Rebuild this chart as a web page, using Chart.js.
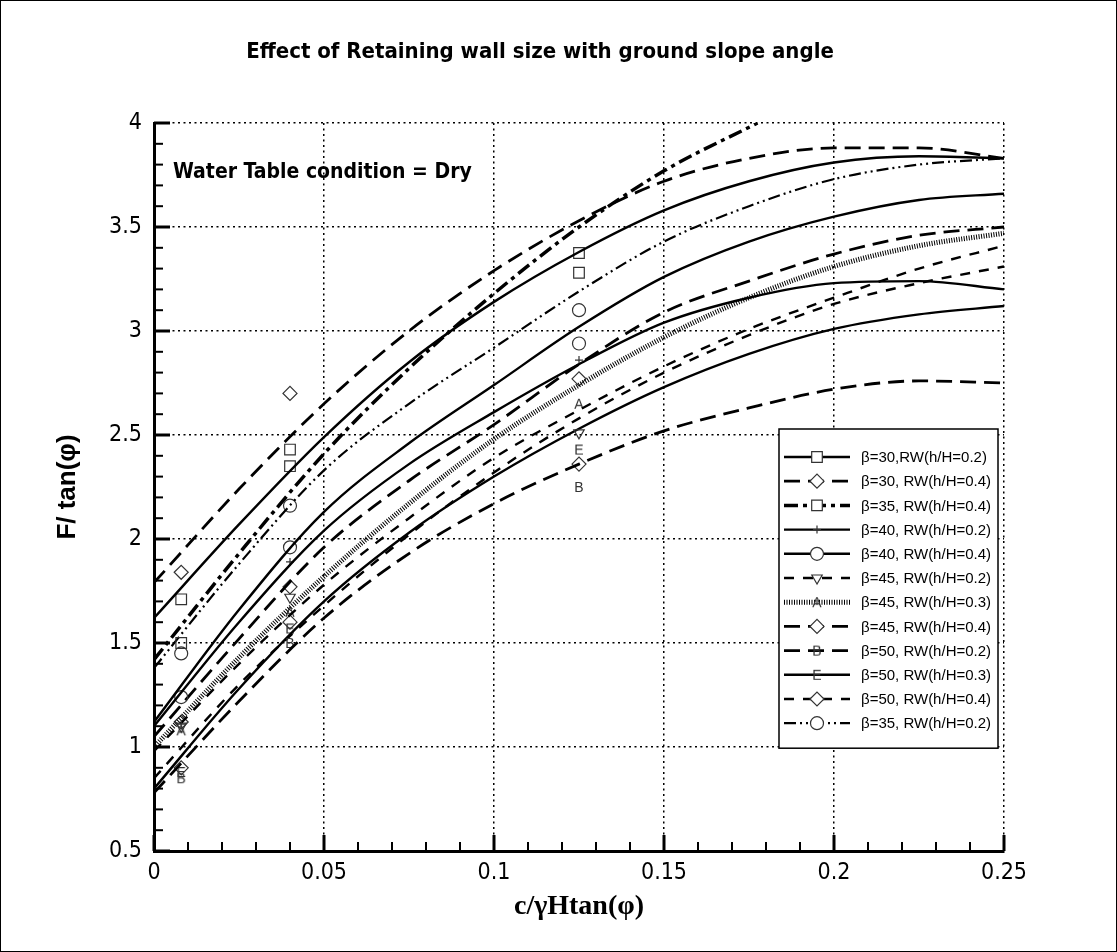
<!DOCTYPE html>
<html>
<head>
<meta charset="utf-8">
<script src="https://cdn.jsdelivr.net/npm/chart.js@4.4.0/dist/chart.umd.min.js"></script>
<style>
html, body { margin: 0; padding: 0; background: #fff; }
#wrap { width: 1117px; height: 952px; box-sizing: border-box; border: 1px solid #000; }
canvas { display: block; }
</style>
</head>
<body>
<div id="wrap"><canvas id="chart" width="1115" height="950"></canvas></div>
<script>
const titleText = 'Effect of Retaining wall size with ground slope angle'
const noteText = 'Water Table condition = Dry'
const xTitle = 'c/γHtan(φ)'
const yTitle = 'F/ tan(φ)'

const xTicks = [0, 0.05, 0.1, 0.15, 0.2, 0.25]
const yTicks = [0.5, 1, 1.5, 2, 2.5, 3, 3.5, 4]

// x positions of the curve points
const xs = [0, 0.025, 0.05, 0.075, 0.1, 0.125, 0.15, 0.175, 0.2, 0.225, 0.25]
const xs35rw04 = [0, 0.025, 0.05, 0.075, 0.1, 0.125, 0.15, 0.1775]

const b30rw02 = [1.62, 2.07, 2.49, 2.85, 3.14, 3.38, 3.58, 3.72, 3.81, 3.84, 3.83]
const b30rw04 = [1.79, 2.24, 2.65, 3.00, 3.29, 3.53, 3.72, 3.83, 3.88, 3.88, 3.83]
const b35rw04 = [1.42, 1.93, 2.41, 2.82, 3.18, 3.50, 3.77, 4.0]
const b40rw02 = [1.10, 1.60, 2.04, 2.36, 2.61, 2.84, 3.04, 3.16, 3.23, 3.24, 3.20]
const b40rw04 = [1.12, 1.66, 2.13, 2.46, 2.74, 3.02, 3.26, 3.43, 3.55, 3.63, 3.66]
const b45rw02 = [0.98, 1.40, 1.78, 2.10, 2.39, 2.62, 2.83, 3.01, 3.16, 3.30, 3.41]
const b45rw03 = [1.00, 1.43, 1.82, 2.17, 2.48, 2.74, 2.97, 3.16, 3.31, 3.41, 3.47]
const b45rw04 = [1.05, 1.52, 1.96, 2.28, 2.55, 2.84, 3.09, 3.24, 3.37, 3.46, 3.50]
const b50rw02 = [0.78, 1.22, 1.62, 1.93, 2.17, 2.36, 2.52, 2.63, 2.72, 2.76, 2.75]
const b50rw03 = [0.80, 1.28, 1.70, 2.03, 2.30, 2.53, 2.73, 2.89, 3.01, 3.08, 3.12]
const b50rw04 = [0.85, 1.30, 1.68, 2.02, 2.32, 2.58, 2.80, 2.98, 3.13, 3.23, 3.31]
const b35rw02 = [1.38, 1.88, 2.33, 2.65, 2.92, 3.19, 3.43, 3.60, 3.73, 3.80, 3.83]

// marker (data point) positions
const markX = [0.008, 0.04, 0.125]
const mk30rw02 = [1.71, 2.43, 3.375]
const mk30rw04 = [1.84, 2.70, null]
const mk35rw04 = [1.50, 2.35, 3.28]
const mk40rw02 = [1.11, 1.89, 2.86]
const mk40rw04 = [1.24, 1.96, 2.94]
const mk45rw02 = [1.10, 1.72, 2.51]
const mk45rw03 = [1.08, 1.65, 2.65]
const mk45rw04 = [1.12, 1.77, 2.77]
const mk50rw02 = [0.85, 1.50, 2.25]
const mk50rw03 = [0.88, 1.57, 2.43]
const mk50rw04 = [0.90, 1.60, 2.36]
const mk35rw02 = [1.45, 2.16, 3.10]

const letterMarker = ch => {
    const c = document.createElement('canvas')
    c.width = 16
    c.height = 16
    const g = c.getContext('2d')
    g.fillStyle = '#333'
    g.font = '14px "Liberation Sans", Arial, sans-serif'
    g.textAlign = 'center'
    g.textBaseline = 'middle'
    g.fillText(ch, 8, 9)
    return c
}

const solid = { dash: [], width: 2.4 }
const longDash = { dash: [16, 8], width: 2.8 }
const dash = { dash: [10, 9], width: 2.4 }
const dashDot = { dash: [14, 5, 4, 5], width: 3.5 }
const dashDotDot = { dash: [12, 4, 2, 4, 2, 4], width: 2.2 }
const hatched = { dash: [1, 1.5], width: 5 }

const square = { pointStyle: 'rect', radius: 7.5 }
const diamond = { pointStyle: 'rectRot', radius: 7 }
const circle = { pointStyle: 'circle', radius: 6.5 }
const plus = { pointStyle: 'cross', radius: 4 }
const triDown = { pointStyle: 'triangle', radius: 6, rotation: 180 }
const markA = { pointStyle: letterMarker('A'), radius: 7 }
const markB = { pointStyle: letterMarker('B'), radius: 7 }
const markE = { pointStyle: letterMarker('E'), radius: 7 }

const series = [
    { label: 'β=30,RW(h/H=0.2)', x: xs, y: b30rw02, mk: mk30rw02, line: solid, point: square },
    { label: 'β=30, RW(h/H=0.4)', x: xs, y: b30rw04, mk: mk30rw04, line: longDash, point: diamond },
    { label: 'β=35, RW(h/H=0.4)', x: xs35rw04, y: b35rw04, mk: mk35rw04, line: dashDot, point: square },
    { label: 'β=40, RW(h/H=0.2)', x: xs, y: b40rw02, mk: mk40rw02, line: solid, point: plus },
    { label: 'β=40, RW(h/H=0.4)', x: xs, y: b40rw04, mk: mk40rw04, line: solid, point: circle },
    { label: 'β=45, RW(h/H=0.2)', x: xs, y: b45rw02, mk: mk45rw02, line: dash, point: triDown },
    { label: 'β=45, RW(h/H=0.3)', x: xs, y: b45rw03, mk: mk45rw03, line: hatched, point: markA },
    { label: 'β=45, RW(h/H=0.4)', x: xs, y: b45rw04, mk: mk45rw04, line: longDash, point: diamond },
    { label: 'β=50, RW(h/H=0.2)', x: xs, y: b50rw02, mk: mk50rw02, line: longDash, point: markB },
    { label: 'β=50, RW(h/H=0.3)', x: xs, y: b50rw03, mk: mk50rw03, line: solid, point: markE },
    { label: 'β=50, RW(h/H=0.4)', x: xs, y: b50rw04, mk: mk50rw04, line: dash, point: diamond },
    { label: 'β=35, RW(h/H=0.2)', x: xs, y: b35rw02, mk: mk35rw02, line: dashDotDot, point: circle }
]

const datasets = []
series.forEach(s => {
    datasets.push({
        label: s.label,
        data: s.x.map((v, i) => ({ x: v, y: s.y[i] })),
        borderColor: '#000',
        borderWidth: s.line.width,
        borderDash: s.line.dash,
        pointRadius: 0,
        cubicInterpolationMode: 'monotone',
        fill: false
    })
    datasets.push({
        label: s.label + ' pts',
        data: markX.map((v, i) => ({ x: v, y: s.mk[i] })),
        showLine: false,
        pointStyle: s.point.pointStyle,
        pointRadius: s.point.radius,
        pointRotation: s.point.rotation || 0,
        pointBorderColor: '#333',
        pointBackgroundColor: 'rgba(255,255,255,0)',
        pointBorderWidth: 1.2
    })
})

const narrow = '"Liberation Sans Narrow", "DejaVu Sans Condensed", "Arial Narrow", sans-serif'

const decorations = {
    id: 'decorations',
    afterDraw(chart) {
        const { ctx, chartArea: a, scales: { x, y } } = chart
        ctx.save()
        ctx.strokeStyle = '#000'
        ctx.setLineDash([])

        // inward ticks, majors and minors
        for (let i = 0; i <= 25; i++) {
            const px = x.getPixelForValue(i / 100)
            const major = i % 5 === 0
            ctx.lineWidth = major ? 3 : 2
            ctx.beginPath()
            ctx.moveTo(px, a.bottom)
            ctx.lineTo(px, a.bottom - (major ? 16 : 9))
            ctx.stroke()
        }
        for (let i = 5; i <= 40; i++) {
            const py = y.getPixelForValue(i / 10)
            const major = i % 5 === 0
            ctx.lineWidth = major ? 3 : 2
            ctx.beginPath()
            ctx.moveTo(a.left, py)
            ctx.lineTo(a.left + (major ? 16 : 9), py)
            ctx.stroke()
        }

        // title and note
        ctx.fillStyle = '#000'
        ctx.textBaseline = 'middle'
        ctx.textAlign = 'center'
        ctx.font = 'bold 22px ' + narrow
        ctx.fillText(titleText, 539, 51)
        ctx.textAlign = 'left'
        ctx.font = 'bold 21px ' + narrow
        ctx.fillText(noteText, 172, 172)

        // legend
        const bx = 778, by = 428, bw = 219, rowH = 24.2
        const bh = 28 + 11 * rowH + 25
        ctx.fillStyle = '#fff'
        ctx.fillRect(bx, by, bw, bh)
        ctx.lineWidth = 1.5
        ctx.strokeRect(bx, by, bw, bh)
        series.forEach((s, i) => {
            const ly = by + 28 + i * rowH
            ctx.save()
            ctx.strokeStyle = '#000'
            ctx.lineWidth = s.line.width
            ctx.setLineDash(s.line.dash)
            ctx.beginPath()
            ctx.moveTo(bx + 5, ly)
            ctx.lineTo(bx + 71, ly)
            ctx.stroke()
            ctx.setLineDash([])
            ctx.strokeStyle = '#333'
            ctx.fillStyle = '#fff'
            ctx.lineWidth = 1.2
            Chart.helpers.drawPoint(ctx, {
                pointStyle: s.point.pointStyle,
                radius: s.point.radius,
                rotation: s.point.rotation || 0,
                borderWidth: 1.2
            }, bx + 38, ly)
            ctx.restore()
            ctx.fillStyle = '#000'
            ctx.font = '15px "Liberation Sans", Arial, sans-serif'
            ctx.textAlign = 'left'
            ctx.textBaseline = 'middle'
            ctx.fillText(s.label, bx + 82, ly + 1)
        })
        ctx.restore()
    }
}

new Chart(document.getElementById('chart'), {
    type: 'line',
    data: { datasets },
    plugins: [decorations],
    options: {
        responsive: false,
        animation: false,
        devicePixelRatio: 1,
        layout: { padding: { top: 122, right: 112, bottom: 0, left: 0 } },
        plugins: {
            legend: { display: false },
            tooltip: { enabled: false },
            title: { display: false }
        },
        scales: {
            x: {
                type: 'linear',
                min: 0,
                max: 0.25,
                afterBuildTicks: s => { s.ticks = xTicks.map(v => ({ value: v })) },
                afterFit: s => { s.height = 100 },
                ticks: {
                    callback: v => String(v),
                    color: '#000',
                    padding: 8,
                    maxRotation: 0,
                    font: { family: narrow, size: 23 }
                },
                grid: { color: '#000', lineWidth: 1.5, drawTicks: false },
                border: { display: true, color: '#000', width: 3, dash: [2, 3.5] },
                title: {
                    display: true,
                    text: xTitle,
                    color: '#000',
                    font: { family: '"Liberation Serif", "Times New Roman", serif', size: 28, weight: 'bold', lineHeight: 1.2 },
                    padding: { top: 0, bottom: 27 }
                }
            },
            y: {
                type: 'linear',
                min: 0.5,
                max: 4,
                afterBuildTicks: s => { s.ticks = yTicks.map(v => ({ value: v })) },
                afterFit: s => { s.width = 153 },
                ticks: {
                    callback: v => String(v),
                    color: '#000',
                    padding: 12,
                    font: { family: narrow, size: 23 }
                },
                grid: { color: '#000', lineWidth: 1.5, drawTicks: false },
                border: { display: true, color: '#000', width: 3, dash: [2, 3.5] },
                title: {
                    display: true,
                    text: yTitle,
                    color: '#000',
                    font: { family: '"Liberation Sans", Arial, sans-serif', size: 26, weight: 'bold', lineHeight: 1.2 },
                    padding: { top: 51, bottom: 0 }
                }
            }
        }
    }
})
</script>
</body>
</html>
